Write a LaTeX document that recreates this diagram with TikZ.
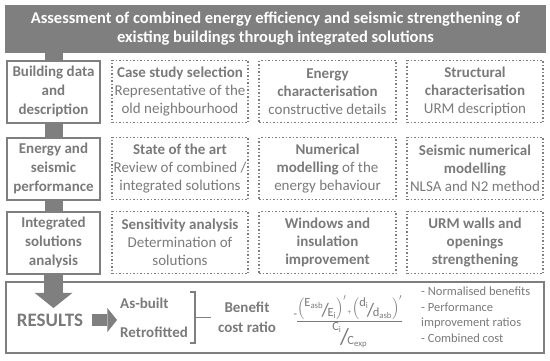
\documentclass[tikz,border=0pt]{standalone}
\usepackage{amsmath}
\usepackage{fontspec}
\setmainfont{Carlito}
\usepackage{tikz}
\usetikzlibrary{arrows.meta}

\definecolor{boxgray}{RGB}{127,127,127}
\definecolor{textgray}{RGB}{122,122,122}
% slanted fraction used in the ratio: size of the slash, raise of the upper part
\newcommand{\slfrac}[4]{\mbox{\raisebox{-0.25\dimexpr#1pt\relax}{\raisebox{#2}{#3}\kern-0.12em{\fontsize{#1}{#1}\selectfont/}\kern-0.12em#4}}}

\begin{document}
\begin{tikzpicture}[x=1pt, y=-1pt]
    % Fix the size of the picture (in px)
    \useasboundingbox (0,0) rectangle (550,360);
    % Style definitions for each kind of box
    \tikzset{
        % dark title bar
        title bar/.style={fill=boxgray, text=white, align=center, inner sep=0pt,
            font=\bfseries\fontsize{16.5}{19}\selectfont,
            minimum width=541pt, minimum height=48pt},
        % solid boxes on the left
        stage box/.style={draw=boxgray, line width=2pt, text=textgray, align=center,
            inner sep=0pt, font=\bfseries\fontsize{15}{19}\selectfont,
            minimum width=93pt, minimum height=62pt},
        % dotted boxes
        task box/.style={draw=boxgray, dotted, line width=1.5pt, text=textgray, align=center,
            inner sep=0pt, font=\fontsize{15}{18}\selectfont,
            minimum width=136pt, minimum height=62pt},
        % plain texts in the results box
        result text/.style={text=textgray, inner sep=0pt, font=\bfseries\fontsize{#1}{18}\selectfont},
        % thick gray links and arrows
        link/.style={boxgray, line width=18pt},
        fat arrow/.style={boxgray, line width=#1, -{Triangle[width=2*#1, length=0.8*#1, line width=0pt]}},
        bracket/.style={draw=boxgray, line width=1.5pt}
    }
    % Title
    \node[title bar] (T) at (275.5, 29) {Assessment of combined energy efficiency and seismic strengthening of\\existing buildings through integrated solutions};

    % First row of nodes
    \node[stage box] (A1) at (53.5, 91.5) {Building data\\and\\description};
    \node[task box] (A2) at (180, 91.5) {\textbf{Case study selection}\\Representative of the\\old neighbourhood};
    \node[task box, minimum width=137pt] (A3) at (327.5, 91.5) {\textbf{Energy}\\\textbf{characterisation}\\constructive details};
    \node[task box] (A4) at (475, 91.5) {\textbf{Structural}\\\textbf{characterisation}\\URM description};

    % Second row of nodes
    \node[stage box] (B1) at (53.5, 168.5) {Energy and\\seismic\\performance};
    \node[task box] (B2) at (180, 168.5) {\textbf{State of the art}\\Review of combined /\\integrated solutions};
    \node[task box, minimum width=137pt] (B3) at (327.5, 168.5) {\textbf{Numerical}\\\textbf{modelling} of the\\energy behaviour};
    \node[task box] (B4) at (475, 168.5) {\textbf{Seismic numerical}\\\textbf{modelling}\\NLSA and N2 method};

    % Third row of nodes
    \node[stage box] (C1) at (53.5, 242.5) {Integrated\\solutions\\analysis};
    \node[task box] (C2) at (180, 242.5) {\textbf{Sensitivity analysis}\\Determination of\\solutions};
    \node[task box, minimum width=137pt, font=\bfseries\fontsize{15}{18}\selectfont] (C3) at (327.5, 242.5) {Windows and\\insulation\\improvement};
    \node[task box, font=\bfseries\fontsize{15}{18}\selectfont] (C4) at (475, 242.5) {URM walls and\\openings\\strengthening};

    % Results box
    \node[stage box, minimum width=538pt, minimum height=71pt] (R) at (275, 317.5) {};
    \node[result text=19] (res) at (50, 320) {RESULTS};
    \node[result text=15, anchor=west] (asb) at (120, 303) {As-built};
    \node[result text=15, anchor=west] (ret) at (120, 332) {Retrofitted};
    \node[result text=15, align=center, font=\bfseries\fontsize{15}{20}\selectfont] (bcr) at (247, 317.5) {Benefit\\cost ratio};
    \node[text=textgray, inner sep=0pt, anchor=base, font=\fontsize{12.5}{14}\selectfont] (F) at (348.5, 324)
        {$\raisebox{8pt}{\scriptsize=}\kern-1pt\dfrac{\Bigl(\slfrac{19}{10pt}{E\textsubscript{asb}}{E\textsubscript{i}}\Bigr)^{\prime}\raisebox{-3pt}{\scriptsize\,+\,}\Bigl(\slfrac{19}{10pt}{d\textsubscript{i}}{d\textsubscript{asb}}\Bigr)^{\prime}}{\slfrac{23}{14pt}{C\textsubscript{i}}{C\textsubscript{exp}}}$};
    \node[text=textgray, inner sep=0pt, align=left, anchor=north west, font=\fontsize{12.5}{15.5}\selectfont] (list) at (421, 287)
        {- Normalised benefits\\- Performance\\improvement ratios\\- Combined cost};

    % Links between the left boxes
    \draw[link] (A1.north |- T.south) -- (A1.north);
    \draw[link] (A1.south) -- (B1.north);
    \draw[link] (B1.south) -- (C1.north);

    % Arrows towards the results
    \coordinate (down) at (53.5, 308);
    \draw[fat arrow=19pt] (C1.south) -- (down);
    \draw[fat arrow=12pt] ([xshift=9pt]res.east) -- ([xshift=-3pt]asb.west |- res.east);

    % Bracket joining both cases
    \coordinate (BrT) at (195, 292);
    \coordinate (BrB) at (195, 343);
    \draw[bracket] ([xshift=-5pt]BrT) -- (BrT) -- (BrB) -- ([xshift=-5pt]BrB);
    \draw[bracket] (BrT |- bcr.west) -- ([xshift=-7pt]bcr.west);
\end{tikzpicture}
\end{document}
